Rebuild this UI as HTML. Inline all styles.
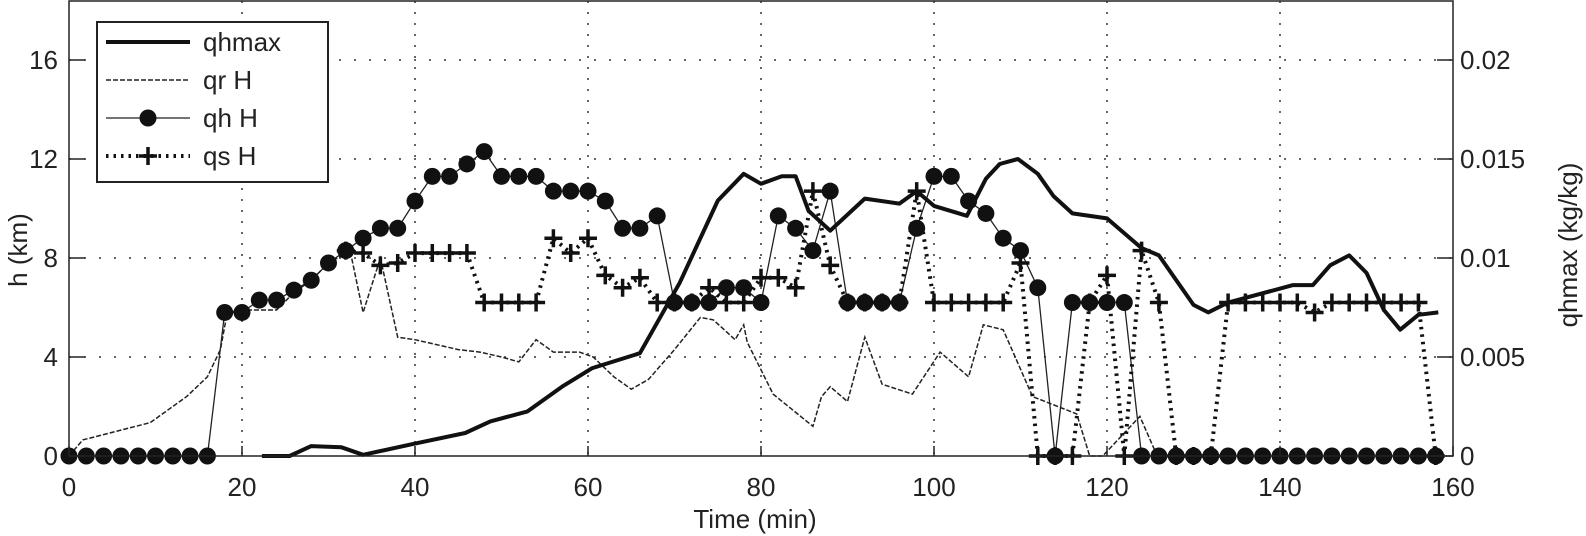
<!DOCTYPE html>
<html><head><meta charset="utf-8"><style>
html,body{margin:0;padding:0;background:#fff;}
svg{display:block;font-family:"Liberation Sans",Arial,sans-serif;}
</style></head><body>
<svg id="chart" width="1586" height="536" viewBox="0 0 1586 536" xmlns="http://www.w3.org/2000/svg">
<g id="grid"></g>
<g id="series"></g>
<g id="axes"></g>
<g id="legend"></g>
</svg>
<script>
const xTicks=[0,20,40,60,80,100,120,140,160];
const yTicks=[0,4,8,12,16];
const yRightTicks=[0,0.005,0.01,0.015,0.02];
const yRightLabels=["0","0.005","0.01","0.015","0.02"];
const qhT=[0,2,4,6,8,10,12,14,16,18,20,22,24,26,28,30,32,34,36,38,40,42,44,46,48,50,52,54,56,58,60,62,64,66,68,70,72,74,76,78,80,82,84,86,88,90,92,94,96,98,100,102,104,106,108,110,112,114,116,118,120,122,124,126,128,130,132,134,136,138,140,142,144,146,148,150,152,154,156,158];
const qhH=[0,0,0,0,0,0,0,0,0,5.8,5.8,6.3,6.3,6.7,7.1,7.8,8.3,8.8,9.2,9.2,10.3,11.3,11.3,11.8,12.3,11.3,11.3,11.3,10.7,10.7,10.7,10.3,9.2,9.2,9.7,6.2,6.2,6.2,6.8,6.8,6.2,9.7,9.2,8.3,10.7,6.2,6.2,6.2,6.2,9.2,11.3,11.3,10.3,9.8,8.8,8.3,6.8,0,6.2,6.2,6.2,6.2,0,0,0,0,0,0,0,0,0,0,0,0,0,0,0,0,0,0];
const qsT=[32,34,36,38,40,42,44,46,48,50,52,54,56,58,60,62,64,66,68,70,72,74,76,78,80,82,84,86,88,90,92,94,96,98,100,102,104,106,108,110,112,114,116,118,120,122,124,126,128,130,132,134,136,138,140,142,144,146,148,150,152,154,156,158];
const qsH=[8.3,8.2,7.7,7.8,8.2,8.2,8.2,8.2,6.2,6.2,6.2,6.2,8.8,8.2,8.8,7.3,6.8,7.2,6.2,6.2,6.2,6.8,6.2,6.2,7.2,7.2,6.8,10.7,7.7,6.2,6.2,6.2,6.2,10.7,6.2,6.2,6.2,6.2,6.2,7.8,0,0,0,6.2,7.3,0,8.3,6.2,0,0,0,6.2,6.2,6.2,6.2,6.2,5.8,6.2,6.2,6.2,6.2,6.2,6.2,0];
const qrT=[0,1.6,9.4,13.6,16,17.5,18.3,20,24,26,28,30,32.5,34,36,38,40,45,47.5,50,52,54,56,59,60.6,63,65,67,70,73,74.5,77,78,78.4,81.4,86,87,88,90,92,94,97.5,100.7,104,105.7,108,111.4,116.5,118,119.5,123.8,125.8];
const qrH=[0,0.65,1.35,2.4,3.2,4.3,5.8,5.9,5.9,6.6,7.1,7.8,8.3,5.8,8.0,4.8,4.7,4.3,4.2,4.0,3.8,4.7,4.2,4.2,4.0,3.2,2.7,3.1,4.3,5.6,5.5,4.7,5.3,4.6,2.5,1.2,2.4,2.8,2.2,4.8,2.9,2.5,4.2,3.2,5.3,5.1,2.4,1.7,0,0,1.6,0];
const qmT=[22.3,25.5,28,31.5,34,40,45.8,48.7,53,57,60.5,66,70.6,75,78,80,82.4,84,85.5,88,92,96,98,100,103.8,106,107.6,109.7,112,113.8,116,120,124,126,130,131.7,134,141.5,143.8,145.8,148,150,152,153.9,156,158.3];
const qmV=[0,0,0.0005,0.00044,0.00006,0.000625,0.00116,0.00175,0.00225,0.0035,0.00444,0.00519,0.00875,0.0129,0.01425,0.01375,0.01413,0.01413,0.01238,0.01138,0.013,0.01275,0.01338,0.01263,0.01213,0.014,0.01475,0.015,0.01425,0.01313,0.01225,0.012,0.0105,0.01013,0.00763,0.00725,0.00775,0.00863,0.00863,0.00963,0.01013,0.00925,0.00738,0.00638,0.00713,0.00725];

const X0=69,X1=1453,Y0=456,YT=1;
const pxKm=(456-60)/16;
function sx(t){return X0+(t-0)/(160-0)*(X1-X0);}
function sy(h){return Y0-h*pxKm;}
function syR(q){return Y0-q*(16/0.02)*pxKm;}
const NS='http://www.w3.org/2000/svg';
function mk(tag,attrs,parent){const e=document.createElementNS(NS,tag);for(const k in attrs)e.setAttribute(k,attrs[k]);parent.appendChild(e);return e;}
const grid=document.getElementById('grid'),ser=document.getElementById('series'),ax=document.getElementById('axes'),lg=document.getElementById('legend');

xTicks.forEach((t,i)=>{
 if(i>0&&i<xTicks.length-1){const g=mk('line',{x1:sx(t),x2:sx(t),y1:YT,y2:Y0,stroke:'#333','stroke-width':1.5,'stroke-dasharray':'2 9'},grid);
 
 }
 const tk=mk('line',{x1:sx(t),x2:sx(t),y1:Y0,y2:Y0-10,stroke:'#222','stroke-width':1.5},ax);
 
 
 const tx=mk('text',{x:sx(t),y:496,'font-size':26,'text-anchor':'middle',fill:'#222'},ax);tx.textContent=t;
 
 
});
yTicks.forEach((h,i)=>{
 if(i>0){const g=mk('line',{x1:X0,x2:X1,y1:sy(h),y2:sy(h),stroke:'#333','stroke-width':1.5,'stroke-dasharray':'2 13'},grid);
 
 }
 const tk=mk('line',{x1:X0,x2:X0+16,y1:sy(h),y2:sy(h),stroke:'#222','stroke-width':1.5},ax);
 
 
 const tx=mk('text',{x:58,y:sy(h)+9,'font-size':26,'text-anchor':'end',fill:'#222'},ax);tx.textContent=h;
 
 
});
yRightTicks.forEach((q,i)=>{
 const tk=mk('line',{x1:X1-16,x2:X1,y1:syR(q),y2:syR(q),stroke:'#222','stroke-width':1.5},ax);
 
 
 const tx=mk('text',{x:1460,y:syR(q)+9,'font-size':26,fill:'#222'},ax);tx.textContent=yRightLabels[i];
 
 
});
const fr=mk('rect',{x:X0,y:YT,width:X1-X0,height:Y0-YT,fill:'none',stroke:'#222','stroke-width':1.5},ax);


const xl=mk('text',{x:755,y:528,'font-size':26,'text-anchor':'middle',fill:'#222'},ax);xl.textContent='Time (min)';


const yl=mk('text',{x:0,y:0,'font-size':26,'text-anchor':'middle',fill:'#222',transform:'translate(27,250) rotate(-90)'},ax);yl.textContent='h (km)';


const yr=mk('text',{x:0,y:0,'font-size':26,'text-anchor':'middle',fill:'#222',transform:'translate(1577,245) rotate(-90)'},ax);yr.textContent='qhmax (kg/kg)';



function pts(T,V,f){return T.map((t,i)=>sx(t).toFixed(1)+','+f(V[i]).toFixed(1)).join(' ');}
const lqr=mk('polyline',{points:pts(qrT,qrH,sy),fill:'none',stroke:'#222','stroke-width':1.5,'stroke-dasharray':'5 2'},ser);


const lqh=mk('polyline',{points:pts(qhT,qhH,sy),fill:'none',stroke:'#222','stroke-width':1.3},ser);


const lqs=mk('polyline',{points:pts(qsT,qsH,sy),fill:'none',stroke:'#111','stroke-width':4,'stroke-dasharray':'2.5 5'},ser);


const lqm=mk('polyline',{points:pts(qmT,qmV,syR),fill:'none',stroke:'#111','stroke-width':4,'stroke-linejoin':'round'},ser);


qhT.forEach((t,i)=>{const c=mk('circle',{cx:sx(t),cy:sy(qhH[i]),r:8.5,fill:'#111'},ser);
 
 });
qsT.forEach((t,i)=>{const x=sx(t),y=sy(qsH[i]);
 const p=mk('path',{d:`M${x-9},${y}H${x+9}M${x},${y-9}V${y+9}`,stroke:'#111','stroke-width':3.5,fill:'none'},ser);
 
 });

// legend
const lb=mk('rect',{x:97,y:22,width:231,height:160,fill:'#fff',stroke:'#222','stroke-width':2},lg);


const rows=[['qhmax',42],['qr H',80],['qh H',118],['qs H',156]];
rows.forEach((r,i)=>{const y=r[1];
 const t=mk('text',{x:203,y:y+9,'font-size':26,fill:'#222'},lg);t.textContent=r[0];
 
 
 let a;
 if(i==0)a={stroke:'#111','stroke-width':4};
 else if(i==1)a={stroke:'#222','stroke-width':1.5,'stroke-dasharray':'5 2'};
 else if(i==2)a={stroke:'#222','stroke-width':1.3};
 else a={stroke:'#111','stroke-width':4,'stroke-dasharray':'2.5 5'};
 const l=mk('line',Object.assign({x1:106,x2:190,y1:y,y2:y},a),lg);
 
 
 if(i==2){const c=mk('circle',{cx:148,cy:y,r:8.5,fill:'#111'},lg);
  
  }
 if(i==3){const p=mk('path',{d:`M139,${y}H157M148,${y-9}V${y+9}`,stroke:'#111','stroke-width':3.5},lg);
  
  }
});
</script>
</body></html>
